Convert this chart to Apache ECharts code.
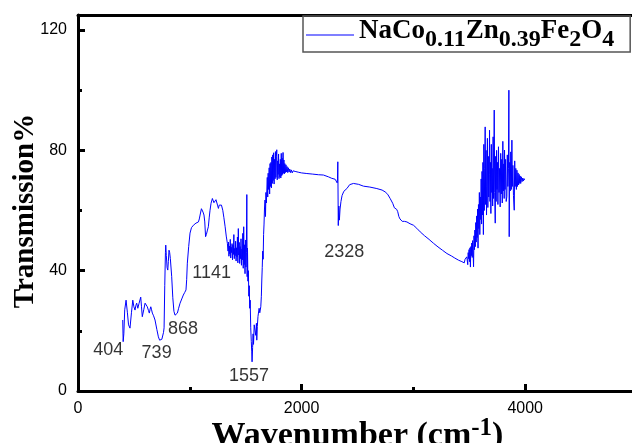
<!DOCTYPE html>
<html>
<head>
<meta charset="utf-8">
<script src="https://cdn.jsdelivr.net/npm/echarts@6/dist/echarts.min.js"></script>
<style>
  html, body { margin: 0; padding: 0; background: #fff; }
  #chart { width: 632px; height: 443px; }
</style>
</head>
<body>
<div id="chart"></div>
<script>
// FTIR spectrum of NaCo0.11Zn0.39Fe2O4, [wavenumber (cm-1), transmission (%)]
const sampleName = 'NaCo0.11Zn0.39Fe2O4';

// metal–oxygen / fingerprint region
const fingerprintBand = [
  [400, 23.6], [404, 16.4], [410, 19.0], [418, 27.0], [430, 30.2], [442, 26.0], [452, 22.0],
  [465, 20.9], [478, 26.0], [490, 30.2], [500, 28.0], [510, 26.9], [518, 28.5], [525, 29.2],
  [535, 27.5], [545, 29.0], [561, 31.2], [568, 28.0], [575, 24.7], [588, 27.0], [600, 29.2],
  [610, 28.6], [620, 28.0], [630, 26.8], [638, 25.9], [645, 27.2], [651, 28.0], [658, 27.0],
  [665, 25.9], [676, 25.0], [689, 23.6], [705, 20.5], [719, 18.0], [730, 16.9], [739, 16.6],
  [750, 17.2], [758, 17.6], [765, 19.5], [770, 21.0], [776, 35.0], [782, 46.0], [785, 48.5],
  [790, 45.0], [797, 41.0], [803, 40.2], [808, 43.0], [814, 46.8], [820, 46.0], [826, 44.0],
  [830, 44.6], [838, 38.0], [848, 31.0], [858, 26.5], [868, 25.2], [878, 25.4], [889, 25.9],
  [900, 27.5], [913, 29.2], [928, 30.6], [942, 31.9], [955, 32.8], [966, 33.6], [972, 37.0],
  [978, 42.5], [990, 48.0], [1002, 52.5], [1015, 54.3], [1032, 55.1], [1055, 55.8], [1077, 56.2],
  [1085, 57.2], [1092, 58.5], [1104, 60.6], [1112, 60.4], [1118, 59.5], [1127, 58.5], [1134, 56.2],
  [1141, 51.3], [1148, 52.0], [1158, 53.5], [1166, 54.6], [1174, 57.8], [1181, 60.1], [1190, 62.4],
  [1202, 64.0], [1210, 63.4], [1216, 62.6], [1226, 62.9], [1234, 63.6], [1241, 63.5], [1248, 61.8],
  [1256, 60.7], [1263, 61.8], [1271, 62.4], [1283, 61.8], [1295, 60.1], [1305, 57.6], [1316, 54.6],
  [1326, 51.5], [1336, 49.1]
];

// noisy 1340–1960 band with the deep 1557 absorption
const bendingBand = [
  [1342, 46.5], [1346, 49.5], [1350, 44.8], [1354, 48.2], [1358, 45.6], [1362, 50.4], [1366, 44.2],
  [1370, 47.8], [1374, 46.0], [1378, 49.0], [1382, 43.6], [1386, 48.5], [1390, 45.4], [1394, 52.0],
  [1398, 44.0], [1402, 47.4], [1406, 45.0], [1410, 49.8], [1414, 43.2], [1418, 47.6], [1422, 44.6],
  [1426, 51.2], [1430, 42.6], [1434, 54.0], [1438, 45.2], [1442, 49.4], [1446, 42.4], [1450, 48.0],
  [1454, 44.0], [1458, 50.6], [1462, 41.8], [1466, 47.2], [1470, 43.6], [1474, 52.4], [1478, 40.8],
  [1482, 54.6], [1486, 42.0], [1490, 48.6], [1494, 39.0], [1498, 50.2], [1502, 41.2], [1506, 46.0],
  [1510, 65.3], [1513, 38.0], [1516, 47.5], [1520, 36.5], [1524, 40.0], [1528, 31.5], [1532, 35.0],
  [1536, 27.5], [1540, 30.2], [1545, 21.0], [1550, 16.5], [1554, 13.0], [1557, 9.7], [1562, 14.5],
  [1566, 19.0], [1570, 15.5], [1576, 22.0], [1584, 21.4], [1590, 18.5], [1596, 22.5], [1599, 16.9],
  [1604, 21.5], [1610, 24.8], [1614, 25.9], [1620, 27.5], [1626, 26.0], [1635, 28.0], [1640, 31.5],
  [1644, 36.9], [1648, 41.0], [1652, 46.5], [1656, 43.8], [1660, 52.0], [1664, 55.5], [1668, 60.5],
  [1673, 63.5], [1677, 58.0], [1681, 66.0], [1685, 62.5], [1689, 66.8], [1693, 71.0], [1697, 64.5],
  [1701, 72.4], [1705, 67.0], [1710, 74.2], [1714, 65.5], [1718, 75.6], [1722, 68.0], [1726, 76.0],
  [1730, 67.5], [1734, 77.8], [1738, 69.0], [1742, 78.5], [1746, 70.0], [1750, 79.2], [1754, 68.8],
  [1758, 77.0], [1762, 70.5], [1766, 79.6], [1770, 71.0], [1774, 78.0], [1778, 80.2], [1782, 70.2],
  [1786, 76.5], [1790, 72.0], [1794, 78.8], [1798, 70.6], [1802, 75.5], [1806, 71.2], [1810, 77.0],
  [1814, 70.8], [1818, 79.0], [1822, 71.6], [1826, 77.4], [1830, 72.0], [1834, 79.3], [1838, 72.4],
  [1842, 76.8], [1846, 72.2], [1850, 75.6], [1855, 72.6], [1860, 75.2], [1865, 72.8], [1870, 74.6],
  [1876, 72.6], [1882, 74.2], [1888, 72.8], [1894, 73.8], [1900, 72.6], [1908, 73.5], [1916, 72.5],
  [1924, 73.2], [1932, 72.6], [1942, 73.0], [1955, 72.8]
];

// smooth plateau, CO2 feature near 2328 and broad slope down to ~3450
const plateauBand = [
  [1975, 72.7], [2000, 72.5], [2047, 72.3], [2100, 72.1], [2150, 71.9], [2195, 71.8], [2240, 71.2],
  [2270, 70.7], [2300, 70.4], [2312, 70.1], [2318, 69.2], [2321, 70.5], [2324, 76.2], [2328, 55.0],
  [2333, 61.5], [2338, 56.8], [2344, 60.5], [2352, 63.0], [2362, 65.0], [2378, 66.4], [2405, 67.3],
  [2430, 68.6], [2464, 69.0], [2510, 68.7], [2553, 68.1], [2610, 67.8], [2673, 67.3], [2720, 66.8],
  [2747, 66.2], [2770, 65.4], [2792, 64.0], [2815, 62.4], [2830, 60.9], [2837, 60.7], [2850, 60.4],
  [2860, 59.6], [2870, 58.0], [2880, 57.2], [2900, 56.4], [2920, 56.4], [2942, 56.2], [2970, 55.6],
  [3001, 55.1], [3030, 54.1], [3061, 52.9], [3100, 51.6], [3140, 50.4], [3180, 49.1], [3220, 47.9],
  [3260, 46.8], [3300, 45.7], [3340, 44.9], [3370, 44.2], [3403, 43.5], [3420, 43.2], [3434, 43.0],
  [3445, 43.3], [3455, 42.6], [3462, 43.8], [3470, 43.2], [3478, 44.6]
];

// O–H stretching band, strongly noisy
const hydroxylBand = [
  [3482, 45.2], [3486, 42.0], [3490, 46.0], [3494, 44.0], [3498, 47.0], [3502, 43.0], [3506, 47.6],
  [3510, 41.2], [3514, 48.0], [3518, 45.0], [3522, 49.2], [3526, 44.4], [3530, 50.0], [3534, 46.2],
  [3538, 41.3], [3542, 51.6], [3546, 47.0], [3550, 53.5], [3554, 48.0], [3558, 56.0], [3562, 49.5],
  [3566, 58.2], [3570, 51.0], [3574, 60.5], [3578, 47.5], [3582, 62.0], [3586, 54.0], [3590, 66.0],
  [3594, 52.0], [3598, 64.5], [3602, 57.0], [3606, 70.5], [3610, 55.5], [3614, 73.0], [3618, 58.5],
  [3622, 76.0], [3626, 52.0], [3630, 82.0], [3634, 60.0], [3638, 74.0], [3642, 87.8], [3646, 62.0],
  [3650, 80.0], [3654, 58.5], [3657, 67.9], [3662, 84.0], [3666, 61.0], [3670, 78.0], [3674, 64.5],
  [3678, 72.0], [3681, 86.7], [3685, 63.0], [3689, 76.0], [3693, 59.0], [3697, 82.0], [3701, 66.0],
  [3705, 74.0], [3709, 61.5], [3713, 84.5], [3717, 64.0], [3723, 93.4], [3727, 66.0], [3732, 55.8],
  [3736, 78.0], [3740, 63.0], [3744, 80.0], [3748, 67.0], [3752, 76.0], [3756, 62.0], [3761, 81.2],
  [3766, 66.0], [3771, 74.0], [3776, 61.2], [3781, 79.0], [3786, 65.5], [3790, 77.0], [3795, 62.5],
  [3800, 83.0], [3804, 66.5], [3808, 75.5], [3812, 64.0], [3815, 80.1], [3820, 67.0], [3825, 77.0],
  [3830, 63.0], [3836, 64.6], [3840, 78.5], [3845, 68.0], [3850, 74.0], [3854, 100.0], [3857, 51.3],
  [3861, 76.0], [3866, 66.5], [3871, 79.5], [3876, 67.0], [3881, 83.4], [3885, 68.0], [3890, 75.0],
  [3895, 65.0], [3902, 60.1], [3906, 76.5], [3911, 68.0], [3916, 74.0], [3921, 67.0], [3926, 73.4],
  [3931, 68.0], [3936, 72.5], [3941, 68.5], [3946, 72.0], [3951, 69.0], [3955, 71.5], [3960, 69.0],
  [3966, 71.2], [3972, 69.6], [3978, 70.8], [3984, 69.8], [3990, 70.6], [3995, 70.2], [4000, 70.1]
];

// annotated absorption bands (cm-1)
const peakWavenumbers = [404, 739, 868, 1141, 1557, 2328];

const spectrum = [].concat(fingerprintBand, bendingBand, plateauBand, hydroxylBand);

// label offsets (px) from each band minimum
const peakLabelOffsets = {
  404: [-15, 8], 739: [-4, 12], 868: [8, 14], 1141: [6, 36], 1557: [-3, 14], 2328: [6, 26]
};

const peakPoints = peakWavenumbers.map(function (wn) {
  const pt = spectrum.find(function (p) { return p[0] === wn; });
  return {
    value: [wn, pt[1]],
    name: String(wn),
    label: { offset: peakLabelOffsets[wn] }
  };
});

const serif = '"Liberation Serif", "Times New Roman", serif';
const sans = '"Liberation Sans", Arial, sans-serif';

// subscript digits in the formula become rich-text tokens
function formulaRich(name) {
  return name.replace(/([A-Za-z]+)|([\d.]+)/g, function (m, letters, digits) {
    return letters ? '{m|' + letters + '}' : '{s|' + digits + '}';
  });
}

const plainNumber = function (v) { return String(v); };

const chart = echarts.init(document.getElementById('chart'), null, { renderer: 'canvas' });

const thick = { color: '#000', width: 3 };

chart.setOption({
  animation: false,
  backgroundColor: '#fff',
  grid: { left: 78, top: 15, width: 559, height: 376, containLabel: false, outerBoundsMode: 'none' },
  legend: {
    left: 303,
    top: 16,
    padding: [2, 16, 0, 3],
    itemWidth: 48,
    itemHeight: 1.2,
    icon: 'rect',
    itemStyle: { color: '#0000ff' },
    borderColor: '#555',
    borderWidth: 1.5,
    selectedMode: false,
    data: [sampleName],
    formatter: formulaRich,
    textStyle: {
      rich: {
        m: { fontFamily: serif, fontWeight: 'bold', fontSize: 27, lineHeight: 20, color: '#000', verticalAlign: 'top' },
        s: { fontFamily: serif, fontWeight: 'bold', fontSize: 24, lineHeight: 34, color: '#000', verticalAlign: 'bottom' }
      }
    }
  },
  xAxis: [
    {
      type: 'value', min: 0, max: 5000, interval: 2000, position: 'bottom',
      axisLine: { lineStyle: thick },
      axisTick: { inside: true, length: 7, lineStyle: thick },
      axisLabel: { fontSize: 16, color: '#000', fontFamily: sans, margin: 10, showMaxLabel: false, formatter: plainNumber },
      splitLine: { show: false },
      name: 'Wavenumber (cm{sup|-1})',
      nameLocation: 'middle',
      nameGap: 25,
      nameMoveOverlap: false,
      nameTextStyle: {
        rich: {
          sup: { fontFamily: serif, fontWeight: 'bold', fontSize: 25, lineHeight: 25, color: '#000', verticalAlign: 'top' }
        },
        fontFamily: serif, fontWeight: 'bold', fontSize: 34, lineHeight: 40, color: '#000', verticalAlign: 'top'
      }
    },
    {
      type: 'value', min: 0, max: 5000, interval: 1000, position: 'bottom', offset: 0,
      axisLine: { show: false },
      axisTick: { inside: true, length: 4, lineStyle: thick },
      axisLabel: { show: false },
      splitLine: { show: false }
    },
    {
      type: 'value', min: 0, max: 5000, position: 'top',
      axisLine: { lineStyle: thick },
      axisTick: { show: false },
      axisLabel: { show: false },
      splitLine: { show: false }
    }
  ],
  yAxis: [
    {
      type: 'value', min: 0, max: 125, interval: 40, position: 'left',
      axisLine: { lineStyle: thick },
      axisTick: { inside: true, length: 7, lineStyle: thick },
      axisLabel: { fontSize: 16, color: '#000', fontFamily: sans, margin: 11, showMaxLabel: false, formatter: plainNumber },
      splitLine: { show: false },
      name: 'Transmission%',
      nameLocation: 'middle',
      nameGap: 38,
      nameMoveOverlap: false,
      nameTextStyle: { fontFamily: serif, fontWeight: 'bold', fontSize: 29, color: '#000', padding: [0, 16, 0, 0] }
    },
    {
      type: 'value', min: 0, max: 125, interval: 20, position: 'left', offset: 0,
      axisLine: { show: false },
      axisTick: { inside: true, length: 4, lineStyle: thick },
      axisLabel: { show: false },
      splitLine: { show: false }
    }
  ],
  series: [
    {
      name: sampleName,
      type: 'line',
      xAxisIndex: 0,
      yAxisIndex: 0,
      data: spectrum,
      showSymbol: false,
      symbol: 'none',
      color: '#0000ff',
      lineStyle: { color: '#0000ff', width: 1 }
    },
    {
      name: 'bands',
      type: 'scatter',
      xAxisIndex: 0,
      yAxisIndex: 0,
      data: peakPoints,
      symbolSize: 0,
      silent: true,
      label: {
        show: true,
        position: 'inside',
        formatter: '{b}',
        fontFamily: sans,
        fontSize: 18,
        color: '#000',
        textBorderWidth: 0
      }
    }
  ]
});
</script>
</body>
</html>
